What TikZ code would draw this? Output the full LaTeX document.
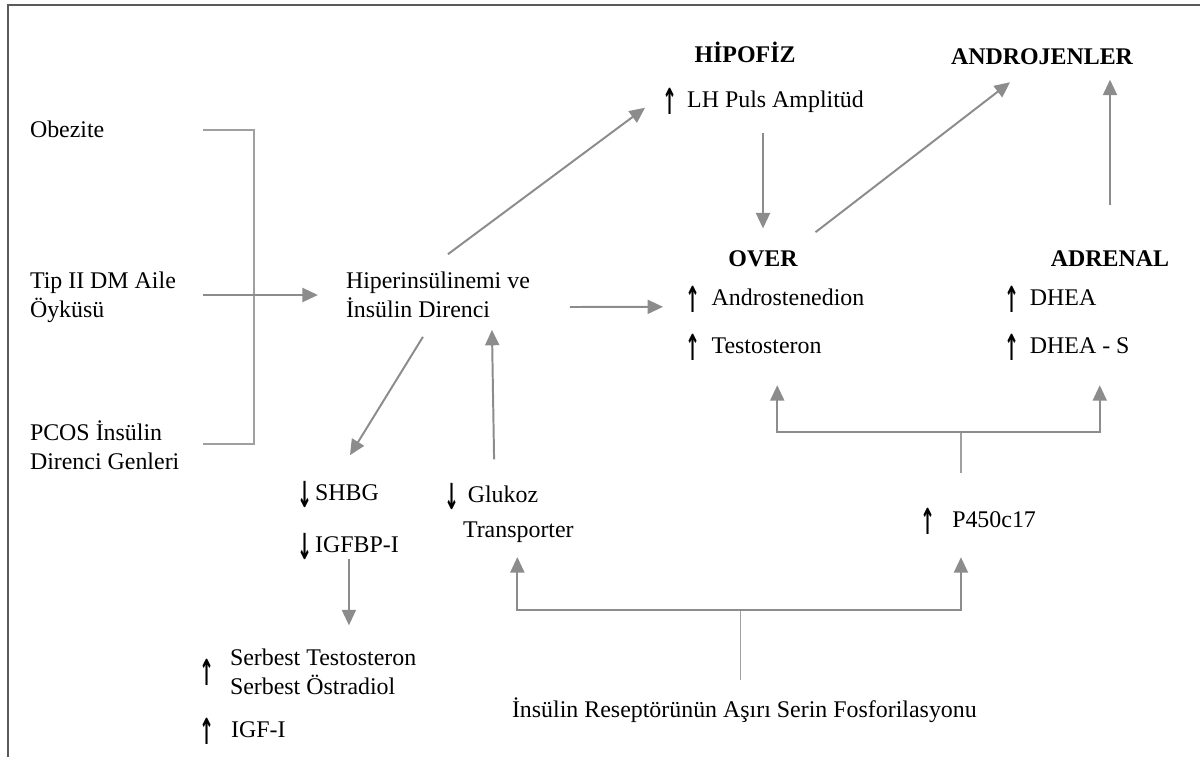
\documentclass[tikz,border=0pt]{standalone}
\usepackage{fontspec}
\setmainfont{Liberation Serif}
\newfontfamily\arrowfont{DejaVu Sans}
\usepackage{graphicx}
\usetikzlibrary{arrows.meta}

\definecolor{arrgray}{HTML}{8C8C8C}
\definecolor{linkgray}{HTML}{A0A0A0}
\definecolor{framegray}{HTML}{5A5A5A}

\newcommand\up{\makebox[8.5pt]{\smash{\raisebox{-5pt}{\scalebox{0.75}[1.5]{\arrowfont\bfseries ↑}}}}}
\newcommand\down{\makebox[8.5pt]{\smash{\raisebox{-5pt}{\scalebox{0.75}[1.5]{\arrowfont\bfseries ↓}}}}}

\tikzset{
  lbl/.style={inner sep=0pt, outer sep=0pt, font=\fontsize{17}{20.5}\selectfont},
  head/.style={lbl, font=\fontsize{17}{20.5}\selectfont\bfseries},
  arr/.style={draw=arrgray, line width=1.4pt, -{Triangle[length=11pt,width=10pt]}},
  link/.style={draw=linkgray, line width=1.1pt},
}

\begin{document}
\begin{tikzpicture}[x=0.025cm, y=-0.025cm]
    \useasboundingbox (0,0) rectangle (1200,757);
    % frame
    \draw[framegray, line width=1.8pt] (8,757) -- (8,5) -- (1200,5);

    % risk factors on the left
    \node[lbl, anchor=base west] (obez) at (30,137) {Obezite};
    \node[lbl, anchor=west, align=left] (tip) at (30,297) {Tip II DM Aile\\Öyküsü};
    \node[lbl, anchor=west, align=left] (pcos) at (30,445) {PCOS İnsülin\\Direnci Genleri};
    \node[lbl, anchor=west, align=left] (hiper) at (346,295) {Hiperinsülinemi ve\\İnsülin Direnci};

    % hypophysis and ovary
    \node[head, anchor=base] (hipofiz) at (745,62) {HİPOFİZ};
    \node[lbl, anchor=base west] (lh) at (664,107) {\up\hspace{8pt}LH Puls Amplitüd};
    \node[head, anchor=base] (over) at (763,266) {OVER};
    \node[lbl, anchor=base west] (andro) at (687,305) {\up\hspace{9pt}Androstenedion};
    \node[lbl, anchor=base west] (test) at (687,353) {\up\hspace{9pt}Testosteron};

    % androgens and adrenal
    \node[head, anchor=base] (androjen) at (1042,64) {ANDROJENLER};
    \node[head, anchor=base] (adrenal) at (1110,266) {ADRENAL};
    \node[lbl, anchor=base west] (dhea) at (1006,305) {\up\hspace{8.5pt}DHEA};
    \node[lbl, anchor=base west] (dheas) at (1006,353) {\up\hspace{8.5pt}DHEA - S};
    \node[lbl, anchor=base west] (p450) at (922,527) {\up\hspace{13pt}P450c17};

    % lower part
    \node[lbl, anchor=base west] (shbg) at (299,500) {\down\hspace{3pt}SHBG};
    \node[lbl, anchor=base west] (igfbp) at (299,552) {\down\hspace{3pt}IGFBP-I};
    \node[lbl, anchor=base west] (gluk) at (446,502) {\down\hspace{7pt}Glukoz};
    \node[lbl, anchor=base west] (trans) at (463,537) {Transporter};
    \node[lbl, anchor=base] (serbup) at (207,678) {\up};
    \node[lbl, anchor=west, align=left] (serb) at (230,672) {Serbest Testosteron\\Serbest Östradiol};
    \node[lbl, anchor=base west] (igf) at (201,737) {\up\hspace{13pt}IGF-I};
    \node[lbl, anchor=base west] (insul) at (512,717) {İnsülin Reseptörünün Aşırı Serin Fosforilasyonu};

    % bracket joining the three risk factors
    \coordinate (brtop) at (203,130);
    \coordinate (brbot) at (203,444);
    \coordinate (brmid) at (203,295);
    \draw[link] (brtop) -- ++(51,0) |- (brbot);
    \draw[arr] (brmid) -- ([xshift=-20]hiper.west);

    % arrows out of hyperinsulinemia
    \draw[arr] ([shift={(10,-18)}]hiper.north) -- ([shift={(-19,6.5)}]lh.west);
    \draw[arr] ([shift={(40,12)}]hiper.east) -- ([shift={(-24,10)}]andro.west);
    \draw[arr] ([shift={(-15,19)}]hiper.south) -- ([shift={(11,-29)}]shbg.north);
    \draw[arr] ([shift={(2,-26)}]gluk.north) -- ([shift={(54,12)}]hiper.south);

    % hormones
    \draw[arr, shorten <=15pt, shorten >=15.5pt] (over.north |- lh.south) -- (over.north);
    \draw[arr] ([shift={(18,-18)}]over.north east) -- ([shift={(-32,18)}]androjen.south);
    \draw[arr, shorten <=32pt, shorten >=11pt] (adrenal.north) -- (adrenal.north |- androjen.south);
    \draw[arr, shorten <=5pt, shorten >=17pt] (igfbp.south) -- (igfbp.south |- serb.north);

    % P450c17 to ovary and adrenal
    \draw[link] ([shift={(-18,-38)}]p450.north) -- ++(0,-41) coordinate (pj);
    \draw[arr] (pj) -| ([shift={(23,32)}]test.south);
    \draw[arr] (pj) -| ([shift={(32,32)}]dheas.south);

    % serine phosphorylation
    \draw[link] ([shift={(-4,-17)}]insul.north) -- ++(0,-70) coordinate (ij);
    \draw[arr] (ij) -| ([shift={(-1,15)}]trans.south);
    \draw[arr] (ij) -| ([shift={(-18,30)}]p450.south);
\end{tikzpicture}
\end{document}
